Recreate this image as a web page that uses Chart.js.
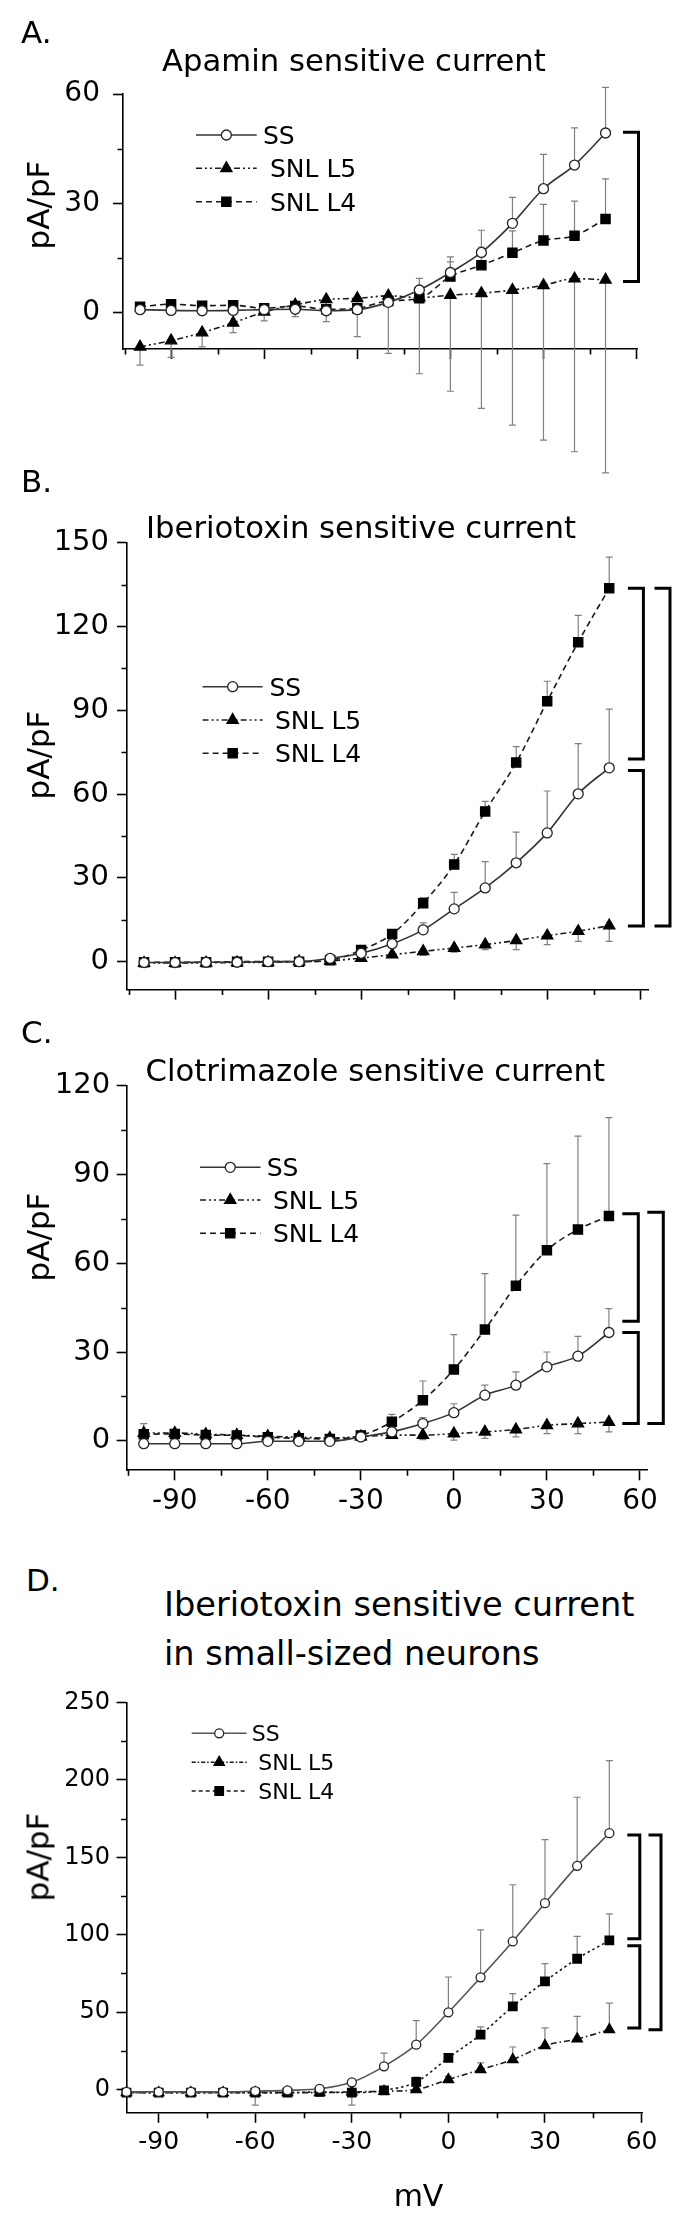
<!DOCTYPE html>
<html>
<head>
<meta charset="utf-8">
<script src="https://cdn.jsdelivr.net/npm/chart.js@4.4.1/dist/chart.umd.min.js"></script>
<style>
  html, body { margin: 0; padding: 0; background: #fff; }
  #page { position: relative; width: 698px; height: 2219px; overflow: hidden; font-family: 'DejaVu Sans', sans-serif; color: #000; }
  #page canvas { position: absolute; left: 0; }
  .txt { position: absolute; white-space: nowrap; line-height: 1; }
  .letter { font-size: 31px; }
  .title { font-size: 30.7px; }
  .titleD { font-size: 33.6px; }
  .ylab { font-size: 31px; transform: translate(-50%, -50%) rotate(-90deg); }
  .xlab { font-size: 30px; transform: translateX(-50%); }
</style>
</head>
<body>
<div id="page">
  <canvas id="chartA" width="698" height="480" style="top:0px"></canvas>
  <canvas id="chartB" width="698" height="540" style="top:480px"></canvas>
  <canvas id="chartC" width="698" height="540" style="top:1020px"></canvas>
  <canvas id="chartD" width="698" height="539" style="top:1680px"></canvas>

  <div class="txt letter" style="left:21px;top:17px">A.</div>
  <div class="txt title" style="left:162px;top:45.7px">Apamin sensitive current</div>
  <div class="txt ylab" style="left:38px;top:205px">pA/pF</div>

  <div class="txt letter" style="left:21px;top:466px">B.</div>
  <div class="txt title" style="left:146px;top:512.9px">Iberiotoxin sensitive current</div>
  <div class="txt ylab" style="left:38px;top:755px">pA/pF</div>

  <div class="txt letter" style="left:21px;top:1017px">C.</div>
  <div class="txt title" style="left:145.5px;top:1055.6px">Clotrimazole sensitive current</div>
  <div class="txt ylab" style="left:38px;top:1237px">pA/pF</div>

  <div class="txt letter" style="left:26px;top:1565px">D.</div>
  <div class="txt titleD" style="left:164px;top:1588.3px">Iberiotoxin sensitive current</div>
  <div class="txt titleD" style="left:164px;top:1636.6px">in small-sized neurons</div>
  <div class="txt ylab" style="left:38px;top:1857px">pA/pF</div>
  <div class="txt xlab" style="left:418.5px;top:2181.3px">mV</div>
</div>
<script>
// voltage steps and axis ticks
const mV = [-100, -90, -80, -70, -60, -50, -40, -30, -20, -10, 0, 10, 20, 30, 40, 50];
const xTickLabels = [-90, -60, -30, 0, 30, 60];
const seriesNames = ['SS', 'SNL L5', 'SNL L4'];

// A. Apamin sensitive current (pA/pF)
const ssA = [0.8, 0.6, 0.5, 0.6, 0.8, 0.9, 0.5, 0.8, 2.8, 6.2, 11.0, 16.5, 24.5, 34.0, 40.5, 49.3];
const ssAErr = [0.8, 0.8, 0.8, 0.8, 0.8, 0.8, 0.8, 0.8, 1.5, 3.2, 4.3, 6.1, 7.1, 9.4, 10.2, 12.5];
const l5A = [-9.4, -7.7, -5.5, -2.8, 0.2, 2.1, 3.6, 3.9, 4.6, 4.1, 4.8, 5.3, 6.2, 7.5, 9.3, 9.0];
const l5AErr = [5.0, 4.6, 3.9, 2.7, 2.5, 3.2, 6.1, 10.5, 15.8, 20.9, 26.4, 31.6, 37.1, 42.5, 47.5, 53.0];
const l4A = [1.6, 2.3, 1.9, 2.0, 1.2, 1.8, 0.9, 1.2, 3.2, 3.9, 9.9, 13.0, 16.4, 19.8, 21.1, 25.7];
const l4AErr = [0.8, 0.8, 0.8, 0.8, 0.8, 0.8, 0.8, 0.8, 1.0, 1.5, 4.0, 5.0, 6.0, 9.9, 9.5, 11.0];
const yTicksA = [0, 30, 60];
const bracketsA = [[49.5, 8.5, 0]];

// B. Iberiotoxin sensitive current
const ssB = [-0.3, -0.3, -0.2, -0.2, 0, 0, 1.2, 3.0, 6.4, 11.4, 18.9, 26.4, 35.4, 46.1, 60.1, 69.4];
const ssBErr = [0.6, 0.6, 0.6, 0.6, 0.6, 0.6, 0.6, 0.8, 1.5, 2.5, 5.9, 9.4, 11.0, 15.0, 18.0, 21.0];
const l5B = [-0.5, -0.5, -0.4, -0.3, -0.2, 0, 0.3, 1.3, 2.5, 3.7, 4.9, 6.1, 7.6, 9.3, 10.9, 12.9];
const l5BErr = [0.6, 0.6, 0.6, 0.6, 0.6, 0.6, 0.6, 0.8, 1.0, 1.5, 1.5, 1.8, 3.3, 3.2, 3.6, 5.6];
const l4B = [-0.2, -0.2, -0.2, 0, 0, 0, 0.5, 4.2, 9.9, 20.9, 34.8, 53.8, 71.3, 93.2, 114.4, 133.7];
const l4BErr = [0.6, 0.6, 0.6, 0.6, 0.6, 0.6, 0.6, 1.0, 1.5, 2.0, 3.6, 3.6, 5.7, 7.2, 9.6, 11.1];
const yTicksB = [0, 30, 60, 90, 120, 150];
const bracketsB = [[133.7, 72.6, 0], [68.4, 12.8, 0], [133.7, 12.8, 1]];

// C. Clotrimazole sensitive current
const ssC = [-1.0, -1.0, -1.0, -1.0, -0.2, -0.2, -0.2, 1.3, 3.0, 5.8, 9.5, 15.4, 18.8, 25.0, 28.6, 36.6];
const ssCErr = [0.6, 0.6, 0.6, 0.6, 0.6, 0.6, 0.6, 0.8, 1.5, 2.0, 3.0, 3.4, 4.5, 5.0, 6.7, 8.1];
const l5C = [2.6, 2.6, 2.2, 1.9, 1.5, 1.2, 0.9, 1.4, 1.9, 1.9, 2.4, 3.0, 3.8, 5.2, 5.8, 6.3];
const l5CErr = [0.8, 0.8, 0.8, 0.8, 0.8, 0.8, 0.8, 0.8, 1.0, 1.5, 2.2, 2.2, 2.5, 2.8, 3.4, 3.3];
const l4C = [2.2, 2.3, 1.9, 1.8, 1.2, 0.8, 0.6, 1.8, 6.4, 13.7, 24.1, 37.6, 52.4, 64.4, 71.4, 76.0];
const l4CErr = [3.6, 1.0, 1.0, 1.0, 1.0, 0.8, 0.8, 1.0, 2.5, 6.5, 11.8, 18.9, 23.9, 29.3, 31.6, 33.3];
const yTicksC = [0, 30, 60, 90, 120];
const bracketsC = [[76.8, 40.4, 0], [36.6, 5.8, 0], [77.3, 5.8, 1]];

// D. Iberiotoxin sensitive current in small-sized neurons
const ssD = [-1.5, -1.5, -1.5, -1.5, -1.0, -0.5, 0.5, 4.7, 15.0, 29.0, 49.9, 72.5, 95.7, 120.4, 144.5, 165.6];
const ssDErr = [0.8, 0.8, 0.8, 0.8, 0.8, 0.8, 1.0, 1.5, 8.6, 15.5, 22.8, 30.7, 36.6, 41.0, 44.3, 46.9];
const l5D = [-2.0, -2.0, -2.0, -2.0, -2.0, -2.0, -2.0, -1.5, -1.1, 0, 6.5, 12.9, 19.4, 28.4, 32.7, 38.7];
const l5DErr = [0.8, 0.8, 0.8, 0.8, 0.8, 0.8, 0.8, 0.8, 1.0, 1.5, 2.0, 4.3, 8.1, 11.4, 14.6, 17.2];
const l4D = [-2.0, -2.0, -2.0, -2.0, -2.0, -2.0, -1.5, -2.0, -0.5, 5.0, 20.5, 35.5, 53.7, 69.9, 84.5, 96.3];
const l4DErr = [0.8, 0.8, 0.8, 0.8, 0.8, 0.8, 0.8, 0.8, 1.0, 3.0, 2.0, 5.0, 8.3, 11.4, 14.4, 17.2];
const l4DErrDown = [0, 0, 0, 0, 8, 0, 0, 8, 0, 0, 0, 0, 0, 0, 0, 0];
const yTicksD = [0, 50, 100, 150, 200, 250];
const bracketsD = [[164.5, 97.4, 0], [92.9, 39.8, 0], [164.5, 38.7, 1]];

Chart.defaults.font.family = "'DejaVu Sans', sans-serif";
Chart.defaults.color = '#000';

const ssStyle = {borderColor: '#333', borderDash: [], pointStyle: 'circle', pointRadius: 5,
  pointBackgroundColor: '#fff', pointBorderColor: '#222'};
const l5Style = {borderColor: '#1a1a1a', borderDash: [6, 3, 2, 3, 2, 3], pointStyle: 'triangle', pointRadius: 6.5,
  pointBackgroundColor: '#000', pointBorderColor: '#000'};
const l4Style = {borderColor: '#1a1a1a', borderDash: [6, 4], pointStyle: 'rect', pointRadius: 6.5,
  pointBackgroundColor: '#000', pointBorderColor: '#000'};

function series(label, ys, style, errUp, errDown, extra) {
  return Object.assign({
    label,
    data: ys.map((y, i) => ({x: mV[i], y})),
    errUp, errDown,
    borderWidth: 1.6,
    pointBorderWidth: 1.3,
    pointHoverRadius: 0,
    cubicInterpolationMode: 'monotone',
    fill: false,
    clip: false
  }, style, extra || {});
}

// error bars, drawn under the lines and markers
const errorBars = {
  id: 'errorBars',
  beforeDatasetsDraw(chart) {
    const {ctx} = chart;
    const x = chart.scales.x, y = chart.scales.y;
    ctx.save();
    ctx.strokeStyle = '#808080';
    ctx.lineWidth = 1.2;
    chart.data.datasets.forEach(ds => {
      ds.data.forEach((p, i) => {
        const px = x.getPixelForValue(p.x), py = y.getPixelForValue(p.y);
        [[ds.errUp, 1], [ds.errDown, -1]].forEach(([arr, s]) => {
          if (!arr || !arr[i]) return;
          const ey = y.getPixelForValue(p.y + s * arr[i]);
          ctx.beginPath();
          ctx.moveTo(px, py);
          ctx.lineTo(px, ey);
          ctx.moveTo(px - 3.5, ey);
          ctx.lineTo(px + 3.5, ey);
          ctx.stroke();
        });
      });
    });
    ctx.restore();
  }
};

// significance brackets on the right
const brackets = {
  id: 'brackets',
  afterDatasetsDraw(chart, args, opts) {
    if (!opts.list) return;
    const {ctx} = chart;
    const y = chart.scales.y;
    ctx.save();
    ctx.strokeStyle = '#000';
    ctx.lineWidth = 3;
    ctx.lineJoin = 'miter';
    opts.list.forEach(([top, bottom, col]) => {
      const vx = opts.cols[col], hx = vx - opts.arm;
      const y1 = y.getPixelForValue(top), y2 = y.getPixelForValue(bottom);
      ctx.beginPath();
      ctx.moveTo(hx, y1);
      ctx.lineTo(vx, y1);
      ctx.lineTo(vx, y2);
      ctx.lineTo(hx, y2);
      ctx.stroke();
    });
    ctx.restore();
  }
};

// legend inside the plot, with line samples
const inlineLegend = {
  id: 'inlineLegend',
  afterDraw(chart, args, opts) {
    if (!opts.rows) return;
    const {ctx} = chart;
    ctx.save();
    chart.data.datasets.forEach((ds, i) => {
      const cy = opts.rows[i];
      ctx.strokeStyle = ds.borderColor;
      ctx.lineWidth = 1.4;
      ctx.setLineDash(opts.dashes ? opts.dashes[i] : ds.borderDash);
      ctx.beginPath();
      ctx.moveTo(opts.x0, cy);
      ctx.lineTo(opts.x1, cy);
      ctx.stroke();
      ctx.setLineDash([]);
      ctx.fillStyle = ds.pointBackgroundColor;
      ctx.strokeStyle = ds.pointBorderColor;
      ctx.lineWidth = ds.pointBorderWidth;
      Chart.helpers.drawPoint(ctx, {pointStyle: ds.pointStyle, radius: ds.pointRadius,
        borderWidth: ds.pointBorderWidth, rotation: 0}, (opts.x0 + opts.x1) / 2, cy);
      ctx.fillStyle = '#000';
      ctx.font = opts.size + "px 'DejaVu Sans'";
      ctx.textBaseline = 'alphabetic';
      ctx.fillText(ds.label, opts.textX[i], cy + opts.size * 0.729 / 2);
    });
    ctx.restore();
  }
};

// short minor ticks halfway between the labelled ones
const minorTicks = {
  id: 'minorTicks',
  afterDraw(chart, args, opts) {
    const {ctx, chartArea} = chart;
    const x = chart.scales.x, y = chart.scales.y;
    const mids = (ticks, lo, hi) => {
      const step = ticks[1] - ticks[0], out = [];
      for (let v = ticks[0] - step / 2; v <= hi + 1e-9; v += step) if (v >= lo - 1e-9) out.push(v);
      return out;
    };
    ctx.save();
    ctx.strokeStyle = '#000';
    ctx.lineWidth = 1.6;
    ctx.beginPath();
    mids(xTickLabels, x.min, x.max).forEach(v => {
      const px = Math.round(x.getPixelForValue(v)) + 0.5;
      ctx.moveTo(px, chartArea.bottom);
      ctx.lineTo(px, chartArea.bottom + opts.len);
    });
    mids(opts.yTicks, y.min, y.max).forEach(v => {
      const py = Math.round(y.getPixelForValue(v)) + 0.5;
      ctx.moveTo(chartArea.left - opts.len, py);
      ctx.lineTo(chartArea.left, py);
    });
    ctx.stroke();
    ctx.restore();
  }
};

function makeChart(id, p) {
  return new Chart(document.getElementById(id), {
    type: 'line',
    data: {datasets: p.datasets},
    plugins: [errorBars, brackets, inlineLegend, minorTicks],
    options: {
      responsive: false,
      animation: false,
      events: [],
      layout: {padding: {top: p.top, left: 0, right: 698 - p.right, bottom: p.h - p.bottom - p.xh}},
      plugins: {
        legend: {display: false},
        tooltip: {enabled: false},
        brackets: p.brackets,
        inlineLegend: p.legend,
        minorTicks: {len: 5.5, yTicks: p.yTicks}
      },
      scales: {
        x: {
          type: 'linear',
          min: p.xMin, max: p.xMax,
          afterBuildTicks: s => { s.ticks = xTickLabels.map(v => ({value: v})); },
          afterFit: s => { s.height = p.xh; s.paddingLeft = 0; s.paddingRight = 0; },
          border: {display: true, color: '#000', width: 1.6},
          grid: {drawOnChartArea: false, drawTicks: true, tickLength: 10, tickWidth: 1.6, tickColor: '#000'},
          ticks: {display: p.xLabels, font: {size: p.xFont}, padding: p.xPad, maxRotation: 0, autoSkip: false}
        },
        y: {
          type: 'linear',
          min: p.yMin, max: p.yMax,
          afterBuildTicks: s => { s.ticks = p.yTicks.map(v => ({value: v})); },
          afterFit: s => { s.width = p.left; s.paddingTop = 0; s.paddingBottom = 0; },
          border: {display: true, color: '#000', width: 1.6},
          grid: {drawOnChartArea: false, drawTicks: true, tickLength: 10, tickWidth: 1.6, tickColor: '#000'},
          ticks: {font: {size: p.yFont}, padding: p.yPad, autoSkip: false}
        }
      }
    }
  });
}

makeChart('chartA', {
  h: 480, top: 94, bottom: 349, left: 123, right: 637.5, xh: 20,
  xMin: -105.5, xMax: 60.3, yMin: -10, yMax: 60, yTicks: yTicksA,
  xLabels: false, xFont: 28, xPad: 5, yFont: 28, yPad: 13,
  datasets: [
    series(seriesNames[0], ssA, ssStyle, ssAErr, null),
    series(seriesNames[1], l5A, l5Style, null, l5AErr),
    series(seriesNames[2], l4A, l4Style, l4AErr, null)
  ],
  brackets: {list: bracketsA, cols: [638.5], arm: 15.5},
  legend: {rows: [135, 168.3, 201.7], x0: 196, x1: 256.7, textX: [263, 270, 270], size: 25}
});

makeChart('chartB', {
  h: 540, top: 62.7, bottom: 509.6, left: 127, right: 648, xh: 20,
  xMin: -105.5, xMax: 62.5, yMin: -10, yMax: 150, yTicks: yTicksB,
  xLabels: false, xFont: 28, xPad: 5, yFont: 29, yPad: 8,
  datasets: [
    series(seriesNames[0], ssB, ssStyle, ssBErr, null),
    series(seriesNames[1], l5B, l5Style, null, l5BErr),
    series(seriesNames[2], l4B, l4Style, l4BErr, null)
  ],
  brackets: {list: bracketsB, cols: [643.4, 670], arm: 15.5},
  legend: {rows: [206.7, 240, 273.3], x0: 202.6, x1: 262.7, textX: [269.4, 275, 275], size: 25}
});

makeChart('chartC', {
  h: 540, top: 65.9, bottom: 450.3, left: 126.7, right: 647.7, xh: 50,
  xMin: -105.5, xMax: 62.5, yMin: -10, yMax: 120, yTicks: yTicksC,
  xLabels: true, xFont: 28, xPad: 5, yFont: 29, yPad: 6.5,
  datasets: [
    series(seriesNames[0], ssC, ssStyle, ssCErr, null),
    series(seriesNames[1], l5C, l5Style, null, l5CErr),
    series(seriesNames[2], l4C, l4Style, l4CErr, null)
  ],
  brackets: {list: bracketsC, cols: [638.3, 663.3], arm: 16},
  legend: {rows: [147.3, 180, 213.3], x0: 200, x1: 260.5, textX: [266.7, 273, 273], size: 25}
});

makeChart('chartD', {
  h: 539, top: 22.5, bottom: 432.8, left: 126.5, right: 642.5, xh: 50,
  xMin: -100, xMax: 60.3, yMin: -15, yMax: 250, yTicks: yTicksD,
  xLabels: true, xFont: 25, xPad: 5, yFont: 24, yPad: 6.5,
  datasets: [
    series(seriesNames[0], ssD, ssStyle, ssDErr, null, {borderColor: '#555', pointRadius: 4.5}),
    series(seriesNames[1], l5D, l5Style, l5DErr, null, {borderDash: [6, 3, 1.5, 3], pointRadius: 6}),
    series(seriesNames[2], l4D, l4Style, l4DErr, l4DErrDown, {borderDash: [2.5, 3], pointRadius: 6})
  ],
  brackets: {list: bracketsD, cols: [639.8, 661], arm: 12.5},
  legend: {rows: [53.3, 82.3, 111], x0: 191.7, x1: 246.7, textX: [251.7, 258.3, 258.3], size: 22,
    dashes: [[], [4, 2, 1.5, 2], [4, 3]]}
});
</script>
</body>
</html>
